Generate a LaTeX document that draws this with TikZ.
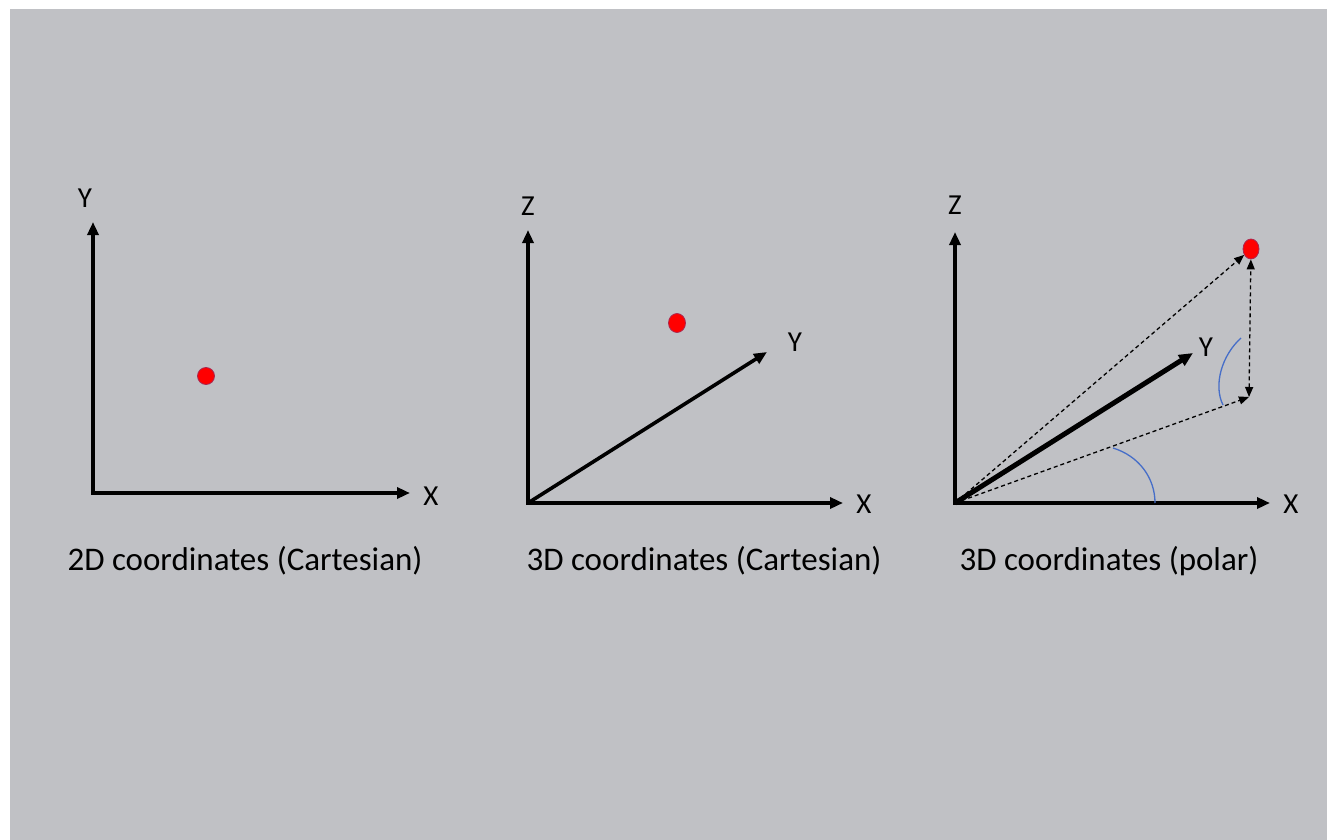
\documentclass[tikz,border=0pt]{standalone}
\usepackage{fontspec}
\setmainfont{Carlito}
\usetikzlibrary{arrows.meta,shapes.geometric}
\definecolor{bg}{RGB}{192,193,197}
\definecolor{dotred}{RGB}{255,0,0}
\definecolor{dotedge}{RGB}{170,40,80}
\definecolor{arcblue}{RGB}{70,110,200}
\tikzset{
  axis/.style={line width=3.6pt,-{Triangle[length=13pt,width=11pt]}},
  thickaxis/.style={line width=5pt,-{Triangle[length=14pt,width=12pt]}},
  dashedarrow/.style={line width=1.3pt,dash pattern=on 4pt off 3pt,-{Triangle[length=10pt,width=8pt]}},
  dashedboth/.style={line width=1.3pt,dash pattern=on 4pt off 3pt,{Triangle[length=10pt,width=8pt]}-{Triangle[length=10pt,width=8pt]}},
  lbl/.style={font=\fontsize{29}{32}\selectfont,inner sep=0pt},
  captxt/.style={font=\fontsize{33}{36}\selectfont,inner sep=0pt,anchor=base},
  reddot/.style={ellipse,fill=dotred,draw=dotedge,line width=0.8pt,inner sep=0pt},
  anglearc/.style={draw=arcblue,line width=1.3pt}
}
\begin{document}
\begin{tikzpicture}[x=1pt,y=-1pt]
\useasboundingbox (0,0) rectangle (1327,840);
\fill[white] (0,0) rectangle (1327,840);
\fill[bg] (10,9) rectangle (1327,840);

% Panel 1
\coordinate (o1) at (93,493);
\coordinate (y1) at (93,222);
\coordinate (x1) at (410,493);
\draw[axis] ([yshift=1.8pt]o1) -- (y1);
\draw[axis] ([xshift=-1.8pt]o1) -- (x1);
\node[lbl] (ly1) at (85,198) {Y};
\node[lbl] (lx1) at (431,496) {X};
\node[reddot,minimum width=17pt,minimum height=17pt] (p1) at (206,376) {};
\node[captxt] (c1) at (245,570) {2D coordinates (Cartesian)};

% Panel 2
\coordinate (o2) at (528,503);
\coordinate (z2) at (528,230);
\coordinate (x2) at (843,503);
\coordinate (y2) at (767,352);
\draw[axis] ([yshift=1.8pt]o2) -- (z2);
\draw[axis] ([xshift=-1.8pt]o2) -- (x2);
\draw[axis] (o2) -- (y2);
\node[lbl] (lz2) at (528,206) {Z};
\node[lbl] (ly2) at (795,342) {Y};
\node[lbl] (lx2) at (864,504) {X};
\node[reddot,minimum width=17pt,minimum height=19pt] (p2) at (677,323) {};
\node[captxt] (c2) at (704,570) {3D coordinates (Cartesian)};

% Panel 3
\coordinate (o3) at (955,503);
\coordinate (z3) at (955,232);
\coordinate (x3) at (1270,503);
\coordinate (y3) at (1193,353);
\coordinate (proj) at (1249,397);
\draw[axis] ([yshift=1.8pt]o3) -- (z3);
\draw[axis] ([xshift=-1.8pt]o3) -- (x3);
\draw[thickaxis] (o3) -- (y3);
\node[lbl] (lz3) at (955,205) {Z};
\node[lbl] (ly3) at (1206,347) {Y};
\node[lbl] (lx3) at (1291,504) {X};
\node[reddot,minimum width=16pt,minimum height=20pt] (p3) at (1251,249) {};
\draw[dashedarrow] (o3) -- (p3);
\draw[dashedarrow] (o3) -- (proj);
\draw[dashedboth] (proj) -- (p3);
\draw[anglearc] (1155,503) .. controls (1155,478) and (1139,456) .. (1113,448);
\draw[anglearc] (1223,405) .. controls (1213,385) and (1222,355) .. (1241,338);
\node[captxt] (c3) at (1109,570) {3D coordinates (polar)};
\end{tikzpicture}
\end{document}
